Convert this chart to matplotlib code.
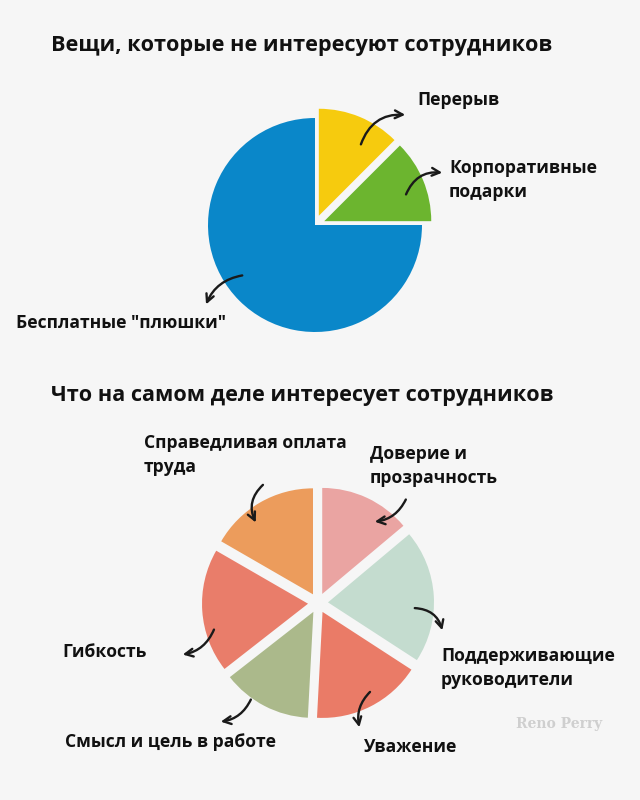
import matplotlib.pyplot as plt

# top chart: things employees don't care about
top_labels = ['Бесплатные "плюшки"', 'Корпоративные\nподарки', 'Перерыв']
top_values = [75, 12.5, 12.5]
top_colors = ['#0a87c9', '#6cb52f', '#f6cb0e']

# bottom chart: what employees actually care about
bot_labels = ['Справедливая оплата\nтруда', 'Гибкость', 'Смысл и цель в работе',
              'Уважение', 'Поддерживающие\nруководители', 'Доверие и\nпрозрачность']
bot_values = [60, 68, 49, 60, 73, 50]
bot_colors = ['#ec9c5c', '#e97d6a', '#abb98b', '#ea7b67', '#c4dccf', '#eaa4a2']

plt.rcParams['font.family'] = ['Open Sans', 'DejaVu Sans']

fig = plt.figure(figsize=(6.4, 8), dpi=100)
fig.patch.set_facecolor('#f6f6f6')
ax = fig.add_axes([0, 0, 1, 1])

# explode is in data units here (pixels), not a fraction of the radius
ax.pie(top_values, colors=top_colors, startangle=90, center=(315, 575), radius=107,
       explode=[0, 10, 10])

ax.pie(bot_values, colors=bot_colors, startangle=90, center=(318, 197), radius=106,
       explode=[10] * len(bot_values))

# pie() resets the limits, so set them afterwards
ax.set_xlim(0, 640)
ax.set_ylim(0, 800)
ax.set_aspect('equal')
ax.axis('off')

bold = dict(fontweight='bold', color='#111111')
ax.text(51, 754, 'Вещи, которые не интересуют сотрудников', fontsize=15.6, va='center', **bold)
ax.text(51, 405, 'Что на самом деле интересует сотрудников', fontsize=15.6, va='center', **bold)

lab = dict(fontsize=12.6, va='center', linespacing=1.45, **bold)
# top labels
ax.text(417, 700, top_labels[2], **lab)
ax.text(449, 620, top_labels[1], **lab)
ax.text(16, 477, top_labels[0], **lab)

# bottom labels
ax.text(144, 345, bot_labels[0], **lab)
ax.text(370, 334, bot_labels[5], **lab)
ax.text(62, 148, bot_labels[1], **lab)
ax.text(441, 132, bot_labels[4], **lab)
ax.text(65, 58, bot_labels[2], **lab)
ax.text(364, 53, bot_labels[3], **lab)

ax.text(559, 76, 'Reno Perry', fontsize=10, family='DejaVu Serif', color='#cfcfcf',
        ha='center', va='center', fontweight='bold')

# hand-drawn style arrows
arrows = [
    ((360, 653), (408, 685), -0.4),
    ((405, 603), (445, 627), -0.4),
    ((245, 525), (205, 493), 0.3),
    ((265, 317), (257, 275), 0.4),
    ((407, 303), (372, 278), -0.3),
    ((412, 192), (443, 167), -0.4),
    ((215, 173), (180, 145), -0.3),
    ((252, 103), (218, 78), -0.3),
    ((372, 110), (360, 70), 0.3),
]
for start, end, rad in arrows:
    ax.annotate('', xy=end, xytext=start,
                arrowprops=dict(arrowstyle='->', color='#1a1a1a', lw=1.7,
                                mutation_scale=14,
                                connectionstyle='arc3,rad=%s' % rad))

fig.savefig('out.png', dpi=100, facecolor=fig.get_facecolor())
